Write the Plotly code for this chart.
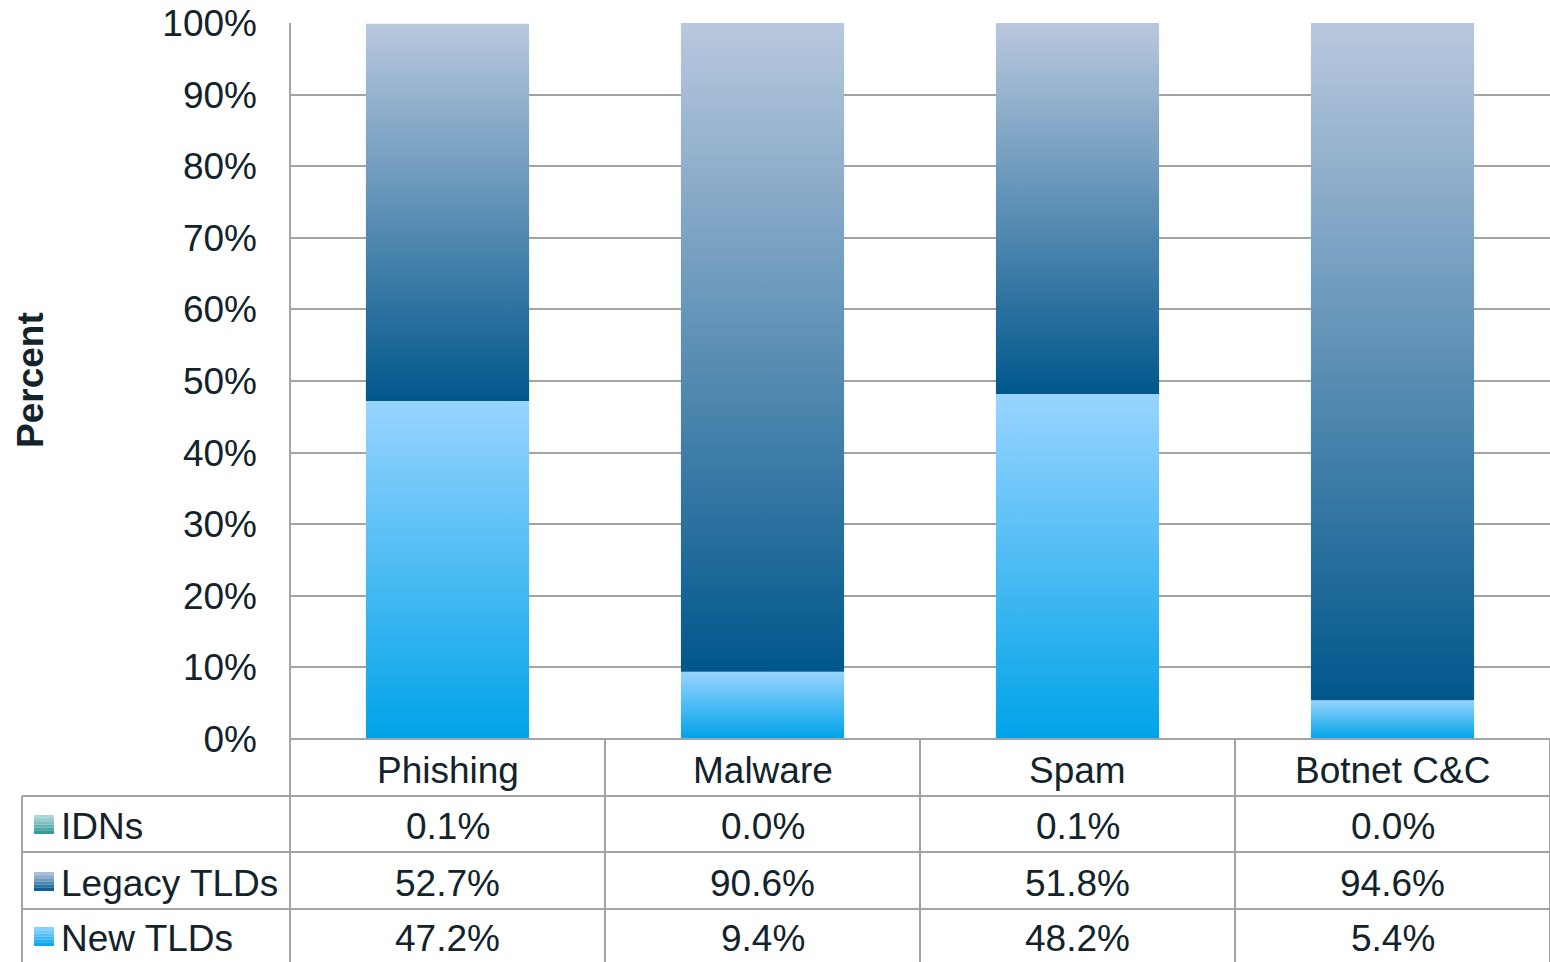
import plotly.graph_objects as go

categories = ["Phishing", "Malware", "Spam", "Botnet C&C"]
series_names = ["IDNs", "Legacy TLDs", "New TLDs"]
idns = [0.1, 0.0, 0.1, 0.0]
legacy = [52.7, 90.6, 51.8, 94.6]
new_tlds = [47.2, 9.4, 48.2, 5.4]
y_ticks = [0, 10, 20, 30, 40, 50, 60, 70, 80, 90, 100]
y_tick_labels = [f"{v}%" for v in y_ticks]

# styles
TXT = "#12232B"
GRID = "#A3A3A3"
FONT = "Liberation Sans, Arial, sans-serif"
FS = 37
grad = {
    "New TLDs": ("#00A3E8", "#98D4FF"),      # bottom, top
    "Legacy TLDs": ("#00578C", "#B9C8DE"),
    "IDNs": ("#2A9494", "#B8DEDB"),
}

W, H = 1550, 962
ML, MR, MT, MB = 290, 0, 23, 962 - 739
PW, PH = W - ML - MR, H - MT - MB


def px_x(p):  # page pixel -> paper x
    return (p - ML) / PW


def px_y(p):  # page pixel -> paper y
    return (H - MB - p) / PH


fig = go.Figure()
half = 0.259
stack_order = [("New TLDs", new_tlds), ("Legacy TLDs", legacy), ("IDNs", idns)]
for i, cat in enumerate(categories):
    base = 0.0
    for name, vals in stack_order:
        v = vals[i]
        if v > 0:
            b, t = base, base + v
            fig.add_trace(go.Scatter(
                x=[i - half, i + half, i + half, i - half, i - half],
                y=[b, b, t, t, b],
                mode="lines", line=dict(width=0), fill="toself",
                fillgradient=dict(type="vertical",
                                  colorscale=[[0, grad[name][0]], [1, grad[name][1]]]),
                showlegend=False, hoverinfo="skip", name=name))
        base += v

fig.update_xaxes(range=[-0.5, len(categories) - 0.5], showticklabels=False,
                 showgrid=False, zeroline=False, showline=False, fixedrange=True)
fig.update_yaxes(range=[0, 100], tickvals=y_ticks, ticktext=y_tick_labels,
                 showgrid=True, gridcolor=GRID, gridwidth=2, zeroline=False,
                 showline=False, ticklabelstandoff=32, ticklabeloverflow="allow",
                 tickfont=dict(size=FS, color=TXT, family=FONT))

shapes = []
ann = []
line = dict(color=GRID, width=2)
BOT = 975
# left border of plot area and table
shapes.append(dict(type="line", xref="paper", yref="paper", x0=0, x1=0,
                   y0=1, y1=px_y(BOT), line=line))
# zero line / top of table
shapes.append(dict(type="line", xref="paper", yref="paper", x0=0, x1=1,
                   y0=0, y1=0, line=line))
# vertical column separators in table
for k in range(1, len(categories) + 1):
    shapes.append(dict(type="line", xref="x", yref="paper", x0=k - 0.5, x1=k - 0.5,
                       y0=0, y1=px_y(BOT), line=line))
# row lines
row_tops = [796, 852, 909]
for r in row_tops:
    shapes.append(dict(type="line", xref="paper", yref="paper", x0=px_x(22), x1=1,
                       y0=px_y(r), y1=px_y(r), line=line))
shapes.append(dict(type="line", xref="paper", yref="paper", x0=px_x(22), x1=px_x(22),
                   y0=px_y(796), y1=px_y(BOT), line=line))

# category header labels
for i, cat in enumerate(categories):
    ann.append(dict(x=i, y=px_y(770), xref="x", yref="paper", text=cat,
                    showarrow=False, font=dict(size=FS, color=TXT, family=FONT),
                    xanchor="center", yanchor="middle"))


def mix(c1, c2, f):
    a = [int(c1[j:j + 2], 16) for j in (1, 3, 5)]
    b = [int(c2[j:j + 2], 16) for j in (1, 3, 5)]
    return "#" + "".join(f"{round(a[j] + (b[j] - a[j]) * f):02X}" for j in range(3))


row_data = [("IDNs", idns), ("Legacy TLDs", legacy), ("New TLDs", new_tlds)]
row_centers = [826, 883, 938]
for (name, vals), cy in zip(row_data, row_centers):
    ann.append(dict(x=px_x(59), y=px_y(cy), xref="paper", yref="paper", text=name,
                    showarrow=False, font=dict(size=FS, color=TXT, family=FONT),
                    xanchor="left", yanchor="middle"))
    for i, v in enumerate(vals):
        ann.append(dict(x=i, y=px_y(cy), xref="x", yref="paper", text=f"{v:.1f}%",
                        showarrow=False, font=dict(size=FS, color=TXT, family=FONT),
                        xanchor="center", yanchor="middle"))
    # legend key with banded gradient
    bot, top = grad[name]
    nb = 6
    y_top, y_bot = cy - 11, cy + 8
    for bidx in range(nb):
        f = (bidx + 0.5) / nb
        yy0 = y_top + (y_bot - y_top) * bidx / nb
        yy1 = y_top + (y_bot - y_top) * (bidx + 1) / nb
        shapes.append(dict(type="rect", xref="paper", yref="paper",
                           x0=px_x(34), x1=px_x(54), y0=px_y(yy0), y1=px_y(yy1),
                           fillcolor=mix(top, bot, f), line=dict(width=0)))

# axis title
ann.append(dict(x=px_x(30), y=px_y(380), xref="paper", yref="paper", text="<b>Percent</b>",
                textangle=-90, showarrow=False,
                font=dict(size=FS, color=TXT, family=FONT),
                xanchor="center", yanchor="middle"))

fig.update_layout(width=W, height=H, margin=dict(l=ML, r=MR, t=MT, b=MB),
                  plot_bgcolor="white", paper_bgcolor="white",
                  shapes=shapes, annotations=ann, showlegend=False)

fig.write_html("out.html", config={"displayModeBar": False},
               post_script="document.body.style.margin='0';"
                           "document.body.style.overflow='hidden';")
